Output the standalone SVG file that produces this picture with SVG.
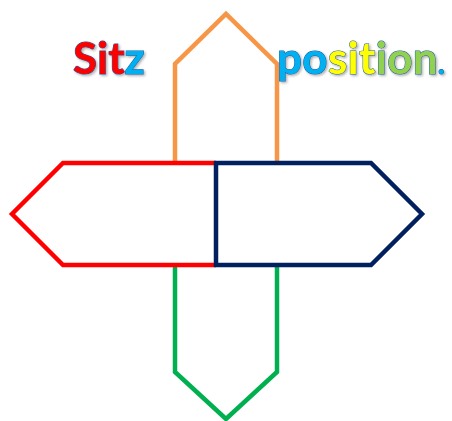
<svg xmlns="http://www.w3.org/2000/svg" width="452" height="421" viewBox="0 0 452 421">
  <defs>
    <style>
      .shape { fill: none; stroke-width: 4.5; stroke-linejoin: miter; }
      .title { font-family: Lato, "Open Sans", "Liberation Sans", sans-serif; font-weight: bold; font-size: 44px; font-variant-ligatures: none; stroke: #1f5a9e; stroke-width: 1; paint-order: stroke fill; }
    </style>
    <filter id="sh" x="-10%" y="-20%" width="130%" height="150%">
      <feDropShadow dx="1.5" dy="1.5" stdDeviation="1" flood-color="#000" flood-opacity="0.3"/>
    </filter>
  </defs>
  <rect width="452" height="421" fill="#ffffff"/>
  <g id="connectors"></g>
  <g id="up">
    <path class="shape" stroke="#f79646" d="M175,164 L175,64 L226,14 L277,64 L277,164"/>
  </g>
  <g id="down">
    <path class="shape" stroke="#00b050" d="M175,264 L175,372 L226,419 L277,372 L277,264"/>
  </g>
  <g id="left">
    <path class="shape" stroke="#ff0000" d="M216,163 L63,163 L12,214 L63,265 L216,265"/>
  </g>
  <g id="right">
    <path class="shape" stroke="#002060" d="M216,163 L371,163 L422,214 L371,265 L216,265 Z"/>
  </g>
  <g id="label-sitz" filter="url(#sh)">
    <text class="title" x="73" y="74"><tspan fill="#ff0000">Sit</tspan><tspan fill="#00b0f0">z</tspan></text>
  </g>
  <g id="label-position" filter="url(#sh)">
    <text class="title" x="277" y="74" textLength="168" lengthAdjust="spacing"><tspan fill="#00b0f0">po</tspan><tspan fill="#ffff00">sit</tspan><tspan fill="#92d050">ion</tspan><tspan fill="#00b0f0" font-size="30px">.</tspan></text>
  </g>
</svg>
